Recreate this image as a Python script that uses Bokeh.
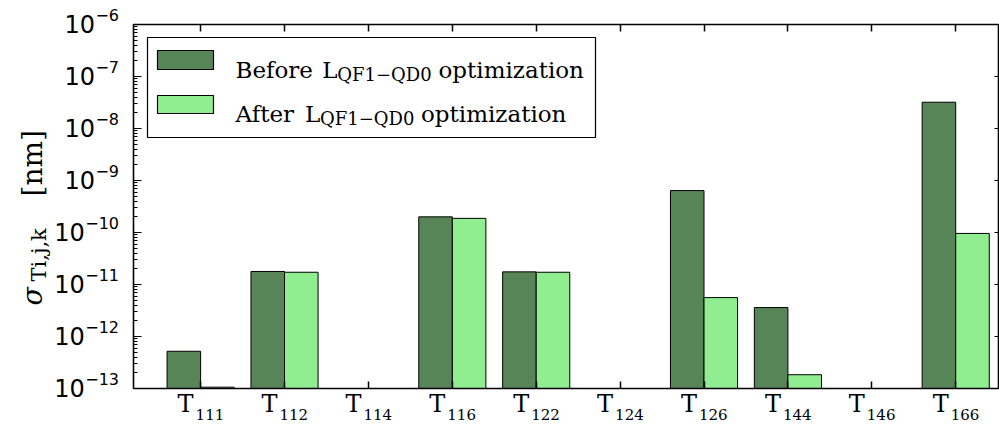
import math
from bokeh.plotting import figure
from bokeh.models import (Range1d, LogAxis, LinearAxis, FixedTicker, Label, LabelSet,
                          ColumnDataSource, CustomJSTickFormatter)
from bokeh.core.properties import value
from bokeh.embed import file_html
from bokeh.resources import INLINE

# ---------------- data ----------------
categories = ["111", "112", "114", "116", "122", "124", "126", "144", "146", "166"]
before = [5.2e-13, 1.78e-11, 0.0, 2.0e-10, 1.75e-11, 0.0, 6.4e-10, 3.6e-12, 0.0, 3.2e-8]
after = [1.06e-13, 1.72e-11, 0.0, 1.87e-10, 1.72e-11, 0.0, 5.6e-12, 1.84e-13, 0.0, 9.6e-11]
y_ticks = [1e-13, 1e-12, 1e-11, 1e-10, 1e-9, 1e-8, 1e-7, 1e-6]
series_names = ["Before", "After"]
legend_sub = "QF1\u2212QD0"

# ---------------- layout ----------------
W, H = 999, 425
L0, R0, T0, B0 = 133, 998, 24, 388          # axes box in page pixels
XI0, XI1 = -0.8, 9.51                        # x limits of the axes box
YI0, YI1 = y_ticks[0], y_ticks[-1]           # y limits of the axes box
UNIT = (R0 - L0) / (XI1 - XI0)               # px per x unit
DPP = (math.log10(YI1) - math.log10(YI0)) / (B0 - T0)   # decades per px
X_lo = XI0 - L0 / UNIT
X_hi = XI1 + (W - R0) / UNIT
Y_hi = 10 ** (math.log10(YI1) + T0 * DPP)
Y_lo = 10 ** (math.log10(YI0) - (H - B0) * DPP)

def px2x(px):
    return X_lo + px / UNIT

def px2y(py):
    return 10 ** (math.log10(Y_hi) - py * DPP)

def shift_y(v, dpx):
    """value located dpx pixels below value v"""
    return 10 ** (math.log10(v) - dpx * DPP)

DARK = "#588558"
LIGHT = "#90EE90"
SERIF = "DejaVu Serif"
SANS = "DejaVu Sans"
blank = CustomJSTickFormatter(code="return ''")
idx = list(range(len(categories)))

p = figure(width=W, height=H, x_range=Range1d(X_lo, X_hi), y_range=Range1d(Y_lo, Y_hi),
           y_axis_type="log", output_backend="svg", toolbar_location=None,
           min_border_left=0, min_border_right=0, min_border_top=0, min_border_bottom=0)
p.background_fill_color = "white"
p.border_fill_color = "white"
p.outline_line_color = None
p.grid.visible = False

# ---------------- axes (drawn around the inner box) ----------------
def style_x(ax, loc):
    ax.ticker = FixedTicker(ticks=idx)
    ax.formatter = blank
    ax.fixed_location = loc
    ax.bounds = (XI0, XI1)
    ax.major_tick_in = 7
    ax.major_tick_out = 0
    ax.minor_tick_line_color = None
    ax.major_label_text_font_size = "1px"
    ax.major_label_standoff = 0
    ax.axis_line_color = "black"
    ax.axis_line_width = 1.6
    ax.major_tick_line_width = 1.5

style_x(p.xaxis[0], YI0)
top = LinearAxis()
style_x(top, YI1)
p.add_layout(top, "above")

ya = p.yaxis[0]
ya.fixed_location = XI0
ya.bounds = (YI0, YI1)
ya.formatter = blank
ya.major_label_text_font_size = "1px"
ya.major_label_standoff = 0
ya.major_tick_in = 8
ya.major_tick_out = 0
ya.minor_tick_in = 4
ya.minor_tick_out = 0
ya.axis_line_color = "black"
ya.axis_line_width = 1.6
ya.major_tick_line_width = 1.2

right = LogAxis(formatter=blank, fixed_location=XI1, bounds=(YI0, YI1),
                major_tick_in=4, major_tick_out=0, minor_tick_line_color=None,
                major_label_text_font_size="1px", major_label_standoff=0,
                axis_line_color="black", axis_line_width=1.6, major_tick_line_width=1.2)
p.add_layout(right, "right")

# ---------------- y tick labels: 10 with superscript exponent ----------------
EXP_PX = 16
exps = ["\u2212" + str(-round(math.log10(t))) for t in y_ticks]
def exp_width(s):
    return sum(0.838 if c == "\u2212" else 0.636 for c in s) * EXP_PX
exp_src = ColumnDataSource(dict(x=[px2x(118.5)] * len(y_ticks),
                                y=[shift_y(t, -4) for t in y_ticks], text=exps))
base_src = ColumnDataSource(dict(x=[px2x(118.5 - exp_width(s) - 0.5) for s in exps],
                                 y=[shift_y(t, 8.5) for t in y_ticks],
                                 text=["10"] * len(y_ticks)))
p.add_layout(LabelSet(x="x", y="y", text="text", source=base_src, text_align="right",
                      text_baseline="alphabetic", text_font=value(SANS),
                      text_font_size=value("24px"), text_color="black"))
p.add_layout(LabelSet(x="x", y="y", text="text", source=exp_src, text_align="right",
                      text_baseline="alphabetic", text_font=value(SANS),
                      text_font_size=value(f"{EXP_PX}px"), text_color="black"))

# ---------------- bars ----------------
src_b = ColumnDataSource(dict(x=[i - 0.2 for i, v in zip(idx, before) if v > 0],
                              top=[v for v in before if v > 0]))
src_a = ColumnDataSource(dict(x=[i + 0.2 for i, v in zip(idx, after) if v > 0],
                              top=[v for v in after if v > 0]))
p.vbar(x="x", width=0.4, top="top", bottom=YI0, source=src_b,
       fill_color=DARK, line_color="black", line_width=1)
p.vbar(x="x", width=0.4, top="top", bottom=YI0, source=src_a,
       fill_color=LIGHT, line_color="black", line_width=1)

# ---------------- x tick labels (T with subscript) ----------------
tsrc = ColumnDataSource(dict(x=[i - 7 / UNIT for i in idx], y=[shift_y(YI0, 23.5)] * len(idx),
                             text=["T"] * len(idx)))
ssrc = ColumnDataSource(dict(x=[i - 5 / UNIT for i in idx], y=[shift_y(YI0, 31.5)] * len(idx),
                             text=categories))
p.add_layout(LabelSet(x="x", y="y", text="text", source=tsrc, text_align="right",
                      text_baseline="alphabetic", text_font=value(SERIF),
                      text_font_size=value("24px"), text_color="black"))
p.add_layout(LabelSet(x="x", y="y", text="text", source=ssrc, text_align="left",
                      text_baseline="alphabetic", text_font=value(SERIF),
                      text_font_size=value("15px"), text_color="black"))

# ---------------- text helper ----------------
def lab(text, px, py, size, angle=0.0, style="normal"):
    p.add_layout(Label(x=px2x(px), y=px2y(py), text=text, text_font=SERIF,
                       text_font_size=size, text_font_style=style, angle=angle,
                       text_align="left", text_baseline="alphabetic", text_color="black"))

# y axis label: sigma_{Ti,j,k} [nm]
lab("\u03c3", 32, 305, "27px", math.pi / 2, "italic")
lab("Ti,j,k", 38, 281, "21px", math.pi / 2)
lab("[nm]", 32, 196, "28px", math.pi / 2)

# ---------------- legend ----------------
p.quad(left=px2x(147), right=px2x(595), top=px2y(37), bottom=px2y(137),
       fill_color="white", line_color="black", line_width=1.2)
rows = [(DARK, 50, 69, 69, 321.7, 336.7, 438), (LIGHT, 95, 113, 113, 304.5, 319.5, 420.5)]
for name, (col, pt, pb, base, lx, sx, ox) in zip(series_names, rows):
    p.quad(left=px2x(157), right=px2x(213), top=px2y(pt), bottom=px2y(pb),
           fill_color=col, line_color="black", line_width=1.2)
    lab(name, 235, base, "23px")
    lab("L", lx, base, "23px")
    lab(legend_sub, sx, base + 4.5, "18px")
    lab("optimization", ox, base, "23px")

open("out.html", "w").write(file_html(p, INLINE))
